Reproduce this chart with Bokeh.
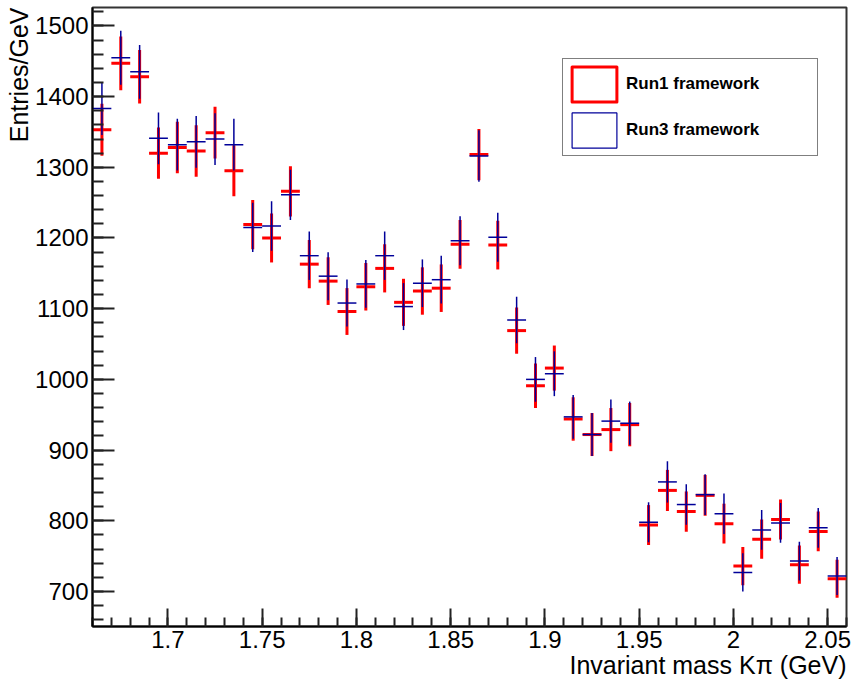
from bokeh.plotting import figure
from bokeh.models import FixedTicker, Legend, LegendItem, ColumnDataSource, Range1d, Title
from bokeh.embed import file_html
from bokeh.resources import INLINE

# ---------------- data ----------------
bin_centers = [1.665, 1.675, 1.685, 1.695, 1.705, 1.715, 1.725, 1.735, 1.745, 1.755,
               1.765, 1.775, 1.785, 1.795, 1.805, 1.815, 1.825, 1.835, 1.845, 1.855,
               1.865, 1.875, 1.885, 1.895, 1.905, 1.915, 1.925, 1.935, 1.945, 1.955,
               1.965, 1.975, 1.985, 1.995, 2.005, 2.015, 2.025, 2.035, 2.045, 2.055]
bin_width = 0.01

run1_values = [1353, 1447, 1428, 1320, 1328, 1323, 1349, 1295, 1219, 1200,
               1266, 1163, 1139, 1096, 1131, 1157, 1109, 1125, 1129, 1191,
               1318, 1190, 1069, 991, 1016, 944, 922, 929, 936, 794,
               843, 813, 836, 796, 736, 774, 802, 738, 785, 718]
run1_errors = [36.8, 38.0, 37.8, 36.3, 36.4, 36.4, 36.7, 36.0, 34.9, 34.6,
               35.6, 34.1, 33.7, 33.1, 33.6, 34.0, 33.3, 33.5, 33.6, 34.5,
               36.3, 34.5, 32.7, 31.5, 31.9, 30.7, 30.4, 30.5, 30.6, 28.2,
               29.0, 28.5, 28.9, 28.2, 27.1, 27.8, 28.3, 27.2, 28.0, 26.8]

run3_values = [1383, 1455, 1435, 1341, 1332, 1336, 1340, 1332, 1215, 1217,
               1261, 1175, 1146, 1108, 1135, 1175, 1103, 1136, 1141, 1196,
               1316, 1201, 1084, 1000, 1008, 947, 922, 941, 938, 798,
               855, 823, 837, 810, 727, 787, 797, 743, 790, 722]
run3_errors = [37.2, 38.1, 37.9, 36.6, 36.5, 36.6, 36.6, 36.5, 34.9, 34.9,
               35.5, 34.3, 33.9, 33.3, 33.7, 34.3, 33.2, 33.7, 33.8, 34.6,
               36.3, 34.7, 32.9, 31.6, 31.7, 30.8, 30.4, 30.7, 30.6, 28.2,
               29.2, 28.7, 28.9, 28.5, 27.0, 28.1, 28.2, 27.3, 28.1, 26.9]

x_ticks = [1.7, 1.75, 1.8, 1.85, 1.9, 1.95, 2.0, 2.05]
x_tick_labels = ["1.7", "1.75", "1.8", "1.85", "1.9", "1.95", "2", "2.05"]
y_ticks = [700, 800, 900, 1000, 1100, 1200, 1300, 1400, 1500]

labels = ["Run1 framework", "Run3 framework"]
x_title = "Invariant mass K\u03c0 (GeV)"
y_title = "Entries/GeV"
RED = "#ff0000"
BLUE = "#000099"
FONT = "Liberation Sans"
X_MIN, X_MAX = 1.66, 2.06
Y_MIN, Y_MAX = 650.5, 1526


def make_source(vals, errs):
    return ColumnDataSource(dict(
        xc=bin_centers,
        xl=[c - bin_width / 2 for c in bin_centers],
        xr=[c + bin_width / 2 for c in bin_centers],
        y=vals,
        ylo=[v - e for v, e in zip(vals, errs)],
        yhi=[v + e for v, e in zip(vals, errs)],
    ))


p = figure(width=851, height=683,
           x_range=Range1d(X_MIN, X_MAX), y_range=Range1d(Y_MIN, Y_MAX),
           output_backend="svg", toolbar_location=None,
           min_border_left=92, min_border_right=5,
           min_border_top=7, min_border_bottom=57)
p.background_fill_color = "white"
p.border_fill_color = "white"
p.xgrid.visible = False
p.ygrid.visible = False
p.outline_line_color = "#333333"
p.outline_line_width = 2

# ---------------- series ----------------
s1 = make_source(run1_values, run1_errors)
s3 = make_source(run3_values, run3_errors)

p.segment(x0="xc", y0="ylo", x1="xc", y1="yhi", source=s1,
          line_color=RED, line_width=3)
p.segment(x0="xl", y0="y", x1="xr", y1="y", source=s1,
          line_color=RED, line_width=3)
p.segment(x0="xc", y0="ylo", x1="xc", y1="yhi", source=s3,
          line_color=BLUE, line_width=1.5)
p.segment(x0="xl", y0="y", x1="xr", y1="y", source=s3,
          line_color=BLUE, line_width=1.5)

# legend proxies (one NaN quad each, never drawn in the frame)
nan = float("nan")
proxy = ColumnDataSource(dict(l=[nan], r=[nan], b=[nan], t=[nan]))
r1 = p.quad(left="l", right="r", bottom="b", top="t", source=proxy,
            fill_alpha=0, line_color=RED, line_width=3, line_join="round")
r3 = p.quad(left="l", right="r", bottom="b", top="t", source=proxy,
            fill_alpha=0, line_color=BLUE, line_width=1.2)

legend = Legend(items=[LegendItem(label=labels[0], renderers=[r1]),
                       LegendItem(label=labels[1], renderers=[r3])],
                location=(470, 470),
                glyph_width=56, glyph_height=44,
                label_width=188, label_height=44,
                label_standoff=4, padding=3, spacing=2, margin=0,
                label_text_font=FONT, label_text_font_size="17px",
                label_text_font_style="bold", label_text_color="black",
                border_line_color="black", border_line_width=1.5,
                background_fill_color="white", background_fill_alpha=1)
p.add_layout(legend, "center")

# ---------------- axes ----------------
minor_x = [round(X_MIN + 0.01 * i, 2) for i in range(41)]
minor_y = [660 + 20 * i for i in range(44)]
p.xaxis.ticker = FixedTicker(ticks=x_ticks, minor_ticks=minor_x)
p.yaxis.ticker = FixedTicker(ticks=y_ticks, minor_ticks=minor_y)
p.xaxis.major_label_overrides = {t: l for t, l in zip(x_ticks, x_tick_labels)}

for ax in (p.xaxis[0], p.yaxis[0]):
    ax.axis_line_color = "black"
    ax.axis_line_width = 2
    ax.major_tick_out = 0
    ax.minor_tick_out = 0
    ax.major_tick_line_color = "#222222"
    ax.major_tick_line_width = 2
    ax.minor_tick_line_color = "#222222"
    ax.minor_tick_line_width = 2
    ax.major_label_text_font = FONT
    ax.major_label_text_font_size = "24px"
    ax.major_label_text_color = "black"

p.xaxis.major_tick_in = 18
p.xaxis.minor_tick_in = 9
p.yaxis.major_tick_in = 22
p.yaxis.minor_tick_in = 11
p.xaxis.major_label_standoff = 4
p.yaxis.major_label_standoff = 4

# axis titles, ROOT style: flush with the end of each axis
p.add_layout(Title(text=x_title, align="right", offset=0, standoff=-4,
                   text_font=FONT, text_font_size="25px",
                   text_font_style="normal", text_color="black"), "below")
p.add_layout(Title(text=y_title, align="right", offset=0, standoff=0,
                   text_font=FONT, text_font_size="25px",
                   text_font_style="normal", text_color="black"), "left")

open("out.html", "w").write(file_html(p, INLINE))
